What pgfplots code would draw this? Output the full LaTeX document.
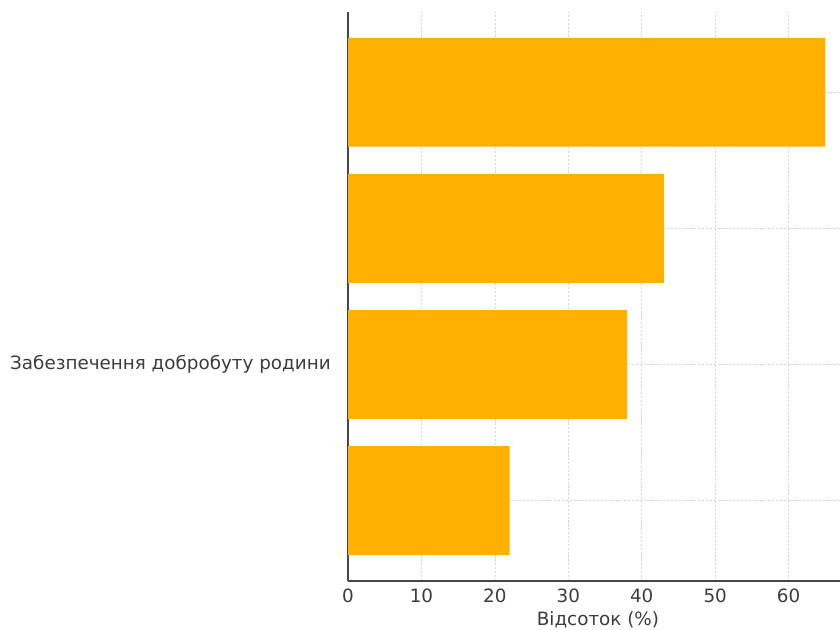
\documentclass[border=0pt]{standalone}
\usepackage{pgfplots}
\pgfplotsset{compat=1.18}
\usepackage{fontspec}
\setmainfont{DejaVu Sans}
\definecolor{barc}{RGB}{255,176,0}
\definecolor{spine}{RGB}{70,70,70}
\definecolor{txt}{RGB}{60,60,60}
\begin{document}
\begin{tikzpicture}
\begin{axis}[
  name=ax,
  at={(0,0)}, anchor=south west,
  scale only axis,
  width=354.2pt, height=409.7pt,
  xbar, bar width=0.8,
  xmin=0, xmax=67.0,
  ymin=-0.59, ymax=3.59,
  ytick={0,1,2,3},
  yticklabels={{},{Забезпечення добробуту родини},{},{}},
  xtick={0,10,20,30,40,50,60},
  axis x line*=bottom, axis y line*=left,
  axis line style={spine, line width=0.9pt, -},
  tick align=inside,
  xtick style={draw=none},
  ytick style={spine, line width=0.8pt},
  major tick length=3.6pt,
  grid=major,
  major grid style={dash pattern=on 1.6pt off 1.2pt, black!16, line width=0.5pt},
  /pgf/number format/assume math mode=true,
  ticklabel style={font=\fontsize{13.2}{15}\selectfont, text=txt},
  yticklabel style={xshift=-9pt},
  xticklabel style={yshift=-2pt},
  xlabel={Відсоток (\%)},
  xlabel style={font=\fontsize{13.2}{15}\selectfont, text=txt, at={(axis description cs:0.508,0)}, anchor=north, yshift=-18.3pt},
  clip=false,
]
\addplot[fill=barc, draw=none] coordinates {(22,0) (38,1) (43,2) (65,3)};
\end{axis}
\pgfresetboundingbox
\path (ax.south west) ++(-250.6pt,-34.6pt) rectangle ++(604.8pt,452.9pt);
\end{tikzpicture}
\end{document}
